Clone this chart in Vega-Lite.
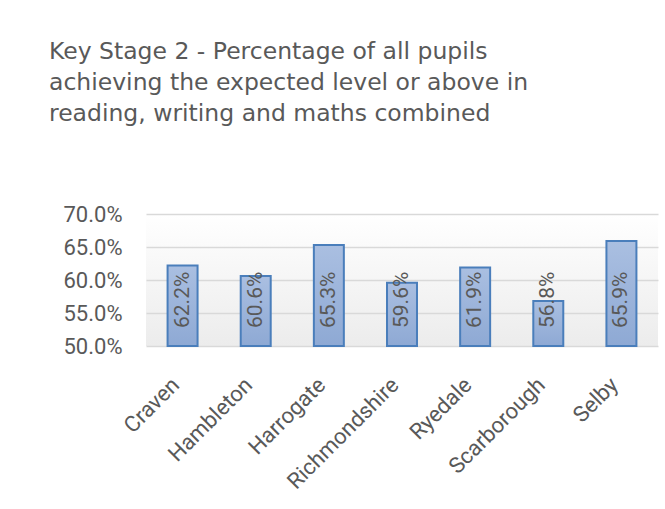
{
  "$schema": "https://vega.github.io/schema/vega-lite/v6.json",
  "width": 512,
  "height": 132,
  "autosize": {"type": "none"},
  "padding": {"left": 146, "top": 214, "right": 7, "bottom": 163},
  "background": "white",
  "title": {
    "text": ["Key Stage 2 - Percentage of all pupils", "achieving the expected level or above in", "reading, writing and maths combined"],
    "anchor": "start",
    "frame": "group",
    "dx": -97,
    "font": "DejaVu Sans",
    "fontSize": 23.5,
    "fontWeight": "normal",
    "color": "#595959",
    "lineHeight": 31,
    "offset": 78
  },
  "data": {
    "values": [
      {"district": "Craven", "pct": 0.622},
      {"district": "Hambleton", "pct": 0.606},
      {"district": "Harrogate", "pct": 0.653},
      {"district": "Richmondshire", "pct": 0.596},
      {"district": "Ryedale", "pct": 0.619},
      {"district": "Scarborough", "pct": 0.568},
      {"district": "Selby", "pct": 0.659}
    ]
  },
  "encoding": {
    "x": {
      "field": "district",
      "type": "nominal",
      "sort": null,
      "title": null,
      "scale": {"paddingInner": 0.59, "paddingOuter": 0.295},
      "axis": {
        "labelAngle": -45,
        "labelAlign": "right",
        "labelBaseline": "middle",
        "labelFont": "Roboto",
        "labelFontSize": 22,
        "labelColor": "#595959",
        "labelPadding": 35,
        "labelOffset": -7,
        "labelOverlap": false,
        "ticks": false,
        "domain": false,
        "grid": false
      }
    }
  },
  "layer": [
    {
      "mark": {
        "type": "bar",
        "stroke": "#4a7ebb",
        "strokeWidth": 2,
        "color": {
          "gradient": "linear",
          "x1": 0, "y1": 0, "x2": 0, "y2": 1,
          "stops": [
            {"offset": 0, "color": "#aabfe1"},
            {"offset": 1, "color": "#8ea9d4"}
          ]
        }
      },
      "encoding": {
        "y": {
          "field": "pct",
          "type": "quantitative",
          "title": null,
          "scale": {"domain": [0.5, 0.7], "zero": false, "clamp": true},
          "axis": {
            "values": [0.5, 0.55, 0.6, 0.65, 0.7],
            "tickCount": 5,
            "format": ".1%",
            "labelFont": "Roboto",
            "labelFontSize": 22,
            "labelColor": "#595959",
            "labelPadding": 24,
            "labelOverlap": false,
            "labelBound": false,
            "ticks": false,
            "domain": false,
            "gridColor": "#d9d9d9",
            "gridWidth": 1.5
          }
        },
        "y2": {"datum": 0.5}
      }
    },
    {
      "mark": {
        "type": "text",
        "angle": 270,
        "align": "left",
        "baseline": "middle",
        "dx": 18,
        "font": "Roboto",
        "fontSize": 21,
        "color": "#595959"
      },
      "encoding": {
        "y": {
          "datum": 0.5,
          "type": "quantitative",
          "title": null,
          "axis": {
            "values": [0.5, 0.55, 0.6, 0.65, 0.7],
            "tickCount": 5,
            "format": ".1%",
            "labelFont": "Roboto",
            "labelFontSize": 22,
            "labelColor": "#595959",
            "labelPadding": 24,
            "labelOverlap": false,
            "labelBound": false,
            "ticks": false,
            "domain": false,
            "gridColor": "#d9d9d9",
            "gridWidth": 1.5
          }
        },
        "text": {"field": "pct", "type": "quantitative", "format": ".1%"}
      }
    }
  ],
  "config": {
    "view": {
      "stroke": null,
      "fill": {
        "gradient": "linear",
        "x1": 0, "y1": 0, "x2": 0, "y2": 1,
        "stops": [
          {"offset": 0, "color": "#ffffff"},
          {"offset": 0.1, "color": "#fdfdfd"},
          {"offset": 1, "color": "#ececec"}
        ]
      }
    }
  }
}
